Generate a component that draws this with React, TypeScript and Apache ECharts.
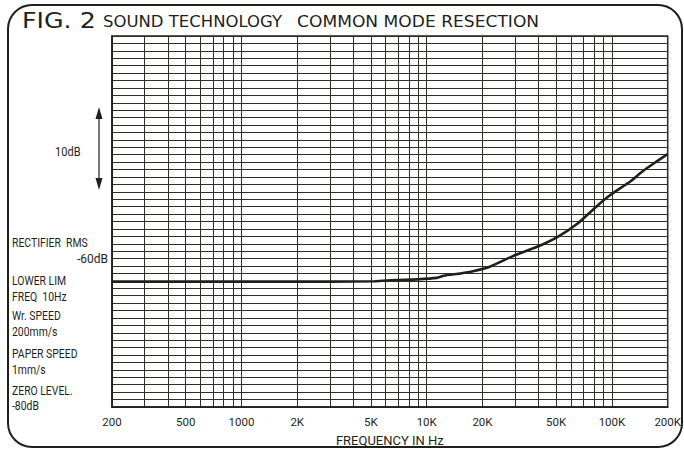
import React, { useEffect, useRef } from "react";
import * as echarts from "echarts";

// Trace (frequency in Hz, level in dB)
const freqHz = [200, 1000, 3000, 5260, 6720, 8900, 11350, 12360, 15200, 17800, 21900, 29000, 40400, 51500, 65800, 84000, 98400, 125600, 147000, 174600, 200000];
const levelDb = [-63.1, -63.1, -63.1, -63.05, -62.9, -62.8, -62.6, -62.3, -62.0, -61.7, -61.1, -59.7, -58.3, -57.0, -55.2, -52.8, -51.4, -49.6, -48.2, -46.9, -45.9];

// Vertical log grid lines
const gridFreqs = [
  200, 300, 400, 500, 600, 700, 800, 900,
  1000, 2000, 3000, 4000, 5000, 6000, 7000, 8000, 9000,
  10000, 20000, 30000, 40000, 50000, 60000, 70000, 80000, 90000,
  100000, 200000,
];
const labelFreqs = [200, 500, 1000, 2000, 5000, 10000, 20000, 50000, 100000, 200000];
const labelTexts = ["200", "500", "1000", "2K", "5K", "10K", "20K", "50K", "100K", "200K"];

const dbMin = -80;
const dbMax = -30;

const sideNotes = [
  { text: "RECTIFIER  RMS", y: 243 },
  { text: "LOWER LIM", y: 281 },
  { text: "FREQ  10Hz", y: 297 },
  { text: "Wr. SPEED", y: 316 },
  { text: "200mm/s", y: 332 },
  { text: "PAPER SPEED", y: 354 },
  { text: "1mm/s", y: 370 },
  { text: "ZERO LEVEL.", y: 391 },
  { text: "-80dB", y: 406 },
];

const INK = "#1f1f1b";
const NARROW = "Roboto, 'Liberation Sans', sans-serif";
const WIDE = "'DejaVu Sans', Verdana, sans-serif";

export default function App() {
  const ref = useRef<HTMLDivElement>(null);
  useEffect(() => {
    const chart = echarts.init(ref.current!, null, { renderer: "svg", width: 684, height: 452 });
    const labelMap: Record<number, string> = {};
    labelFreqs.forEach((f, i) => (labelMap[f] = labelTexts[i]));

    chart.setOption({
      animation: false,
      backgroundColor: "#ffffff",
      grid: { left: 112, right: 6, top: 36, bottom: 44, show: true, borderColor: INK, borderWidth: 1.5 },
      xAxis: {
        type: "log",
        logBase: 10,
        min: 200,
        max: 200000,
        axisLine: { show: true, lineStyle: { color: INK, width: 1.5 } },
        axisTick: { show: false, customValues: gridFreqs },
        splitLine: { show: true, lineStyle: { color: "#2e2e2a", width: 1 } },
        axisLabel: {
          customValues: labelFreqs,
          formatter: (v: number) => labelMap[Math.round(v)] ?? "",
          color: INK,
          fontFamily: NARROW,
          fontSize: 11.5,
          margin: 9,
        },
        name: "FREQUENCY IN Hz",
        nameLocation: "middle",
        nameGap: 27,
        nameTextStyle: { color: INK, fontFamily: NARROW, fontSize: 13 },
      },
      yAxis: {
        type: "value",
        min: dbMin,
        max: dbMax,
        interval: 1,
        axisLine: { show: true, lineStyle: { color: INK, width: 1.5 } },
        axisTick: { show: false },
        splitLine: { show: true, lineStyle: { color: "#2e2e2a", width: 1 } },
        axisLabel: {
          formatter: (v: number) => (v === -60 ? "-60dB" : ""),
          color: INK,
          fontFamily: NARROW,
          fontSize: 12,
          margin: 4,
        },
      },
      series: [
        {
          type: "line",
          data: freqHz.map((f, i) => [f, levelDb[i]]),
          showSymbol: false,
          smooth: 0.2,
          lineStyle: { color: INK, width: 2.6 },
          z: 5,
        },
      ],
      graphic: [
        {
          type: "rect",
          silent: true,
          shape: { x: 8, y: 5, width: 674, height: 442, r: 24 },
          style: { fill: "none", stroke: INK, lineWidth: 2 },
        },
        {
          type: "text",
          x: 22,
          y: 21,
          scaleX: 1.15,
          style: { text: "FIG. 2", fill: INK, font: `22px ${WIDE}`, verticalAlign: "middle" },
        },
        {
          type: "text",
          x: 103,
          y: 22,
          scaleX: 1.1,
          style: { text: "SOUND TECHNOLOGY", fill: INK, font: `15px ${WIDE}`, verticalAlign: "middle" },
        },
        {
          type: "text",
          x: 297,
          y: 22,
          scaleX: 1.14,
          style: { text: "COMMON MODE RESECTION", fill: INK, font: `15px ${WIDE}`, verticalAlign: "middle" },
        },
        {
          type: "text",
          x: 55,
          y: 152,
          scaleX: 0.85,
          style: { text: "10dB", fill: INK, font: `13px ${NARROW}`, verticalAlign: "middle" },
        },
        {
          type: "line",
          shape: { x1: 99, y1: 116, x2: 99, y2: 182 },
          style: { stroke: INK, lineWidth: 1.2 },
        },
        {
          type: "polygon",
          shape: { points: [[99, 107], [95.5, 119], [102.5, 119]] },
          style: { fill: INK },
        },
        {
          type: "polygon",
          shape: { points: [[99, 190], [95.5, 178], [102.5, 178]] },
          style: { fill: INK },
        },
        ...sideNotes.map((n) => ({
          type: "text",
          x: 12,
          y: n.y,
          scaleX: 0.8,
          style: { text: n.text, fill: INK, font: `13px ${NARROW}`, verticalAlign: "middle" },
        })),
      ],
    });
    return () => chart.dispose();
  }, []);
  return (
    <div
      ref={ref}
      style={{ position: "fixed", left: 0, top: 0, width: 684, height: 452, background: "#fff" }}
    />
  );
}
